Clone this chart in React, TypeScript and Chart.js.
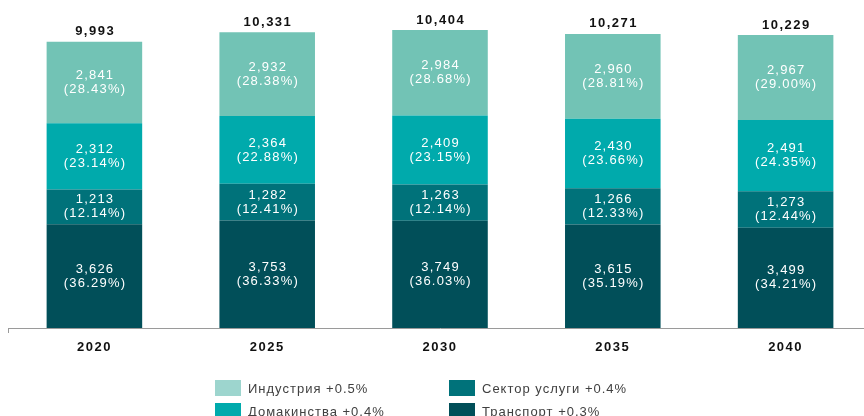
import React, { useEffect, useRef } from "react";
import { Chart, registerables } from "chart.js";
Chart.register(...registerables);

const years = ["2020", "2025", "2030", "2035", "2040"];
const transport = [3626, 3753, 3749, 3615, 3499];
const services = [1213, 1282, 1263, 1266, 1273];
const households = [2312, 2364, 2409, 2430, 2491];
const industry = [2841, 2932, 2984, 2960, 2967];
const transportPct = ["36.29%", "36.33%", "36.03%", "35.19%", "34.21%"];
const servicesPct = ["12.14%", "12.41%", "12.14%", "12.33%", "12.44%"];
const householdsPct = ["23.14%", "22.88%", "23.15%", "23.66%", "24.35%"];
const industryPct = ["28.43%", "28.38%", "28.68%", "28.81%", "29.00%"];
const totals = [9993, 10331, 10404, 10271, 10229];

const seriesNames = ["Транспорт +0.3%", "Сектор услуги +0.4%", "Домакинства +0.4%", "Индустрия +0.5%"];
const barColors = ["#014F59", "#00727A", "#00AAAC", "#72C3B5"];
const legendColors = ["#014F59", "#00727A", "#00AAAC", "#9DD5CE"];

const fmt = (v: number) => v.toLocaleString("en-US");

const FONT = "'Liberation Sans', Arial, sans-serif";

const spacingPlugin = {
  id: "spacing",
  beforeDraw(chart: any) {
    chart.ctx.letterSpacing = "1.5px";
  },
};

const labelsPlugin = {
  id: "segLabels",
  afterDatasetsDraw(chart: any) {
    const ctx = chart.ctx;
    const pcts = [transportPct, servicesPct, householdsPct, industryPct];
    ctx.save();
    ctx.textAlign = "center";
    ctx.textBaseline = "middle";
    ctx.letterSpacing = "1.2px";
    chart.data.datasets.forEach((ds: any, di: number) => {
      const meta = chart.getDatasetMeta(di);
      meta.data.forEach((el: any, i: number) => {
        const cy = (el.y + el.base) / 2;
        ctx.fillStyle = "#ffffff";
        ctx.font = `13px ${FONT}`;
        ctx.fillText(fmt(ds.data[i]), el.x + 0.6, cy - 7);
        ctx.fillText(`(${pcts[di][i]})`, el.x + 0.6, cy + 7);
      });
    });
    // totals
    const top = chart.getDatasetMeta(chart.data.datasets.length - 1);
    ctx.fillStyle = "#111111";
    ctx.font = `bold 13px ${FONT}`;
    ctx.letterSpacing = "1.5px";
    top.data.forEach((el: any, i: number) => {
      ctx.fillText(fmt(totals[i]), el.x + 0.75, el.y - 10);
    });
    // small tick at axis start
    const xs = chart.scales.x;
    ctx.strokeStyle = "#9a9a9a";
    ctx.lineWidth = 1;
    ctx.beginPath();
    ctx.moveTo(xs.left + 0.5, xs.top);
    ctx.lineTo(xs.left + 0.5, xs.top + 5);
    ctx.stroke();
    ctx.restore();
  },
  afterDraw(chart: any) {
    chart.ctx.letterSpacing = "0px";
  },
};

export default function App() {
  const ref = useRef<HTMLCanvasElement | null>(null);
  useEffect(() => {
    if (!ref.current) return;
    const chart = new Chart(ref.current, {
      type: "bar",
      data: {
        labels: years,
        datasets: [
          { label: seriesNames[0], data: transport, backgroundColor: barColors[0] },
          { label: seriesNames[1], data: services, backgroundColor: barColors[1] },
          { label: seriesNames[2], data: households, backgroundColor: barColors[2] },
          { label: seriesNames[3], data: industry, backgroundColor: barColors[3] },
        ],
      },
      options: {
        animation: false,
        responsive: false,
        layout: { padding: { top: 13, left: 8, right: 0, bottom: 0 } },
        datasets: { bar: { barPercentage: 0.553, categoryPercentage: 1 } },
        plugins: { legend: { display: false }, tooltip: { enabled: false } },
        scales: {
          x: {
            stacked: true,
            grid: { display: false, drawTicks: false },
            border: { display: true, color: "#9a9a9a", width: 1 },
            ticks: { color: "#111111", font: { family: FONT, size: 13, weight: "bold" }, padding: 12 },
            afterFit: (s: any) => { s.height = 88; },
          },
          y: { stacked: true, display: false, min: 0, max: 11000 },
        },
      },
      plugins: [spacingPlugin, labelsPlugin],
    });
    return () => chart.destroy();
  }, []);

  const legendPos = [
    { x: 449, y: 403 },
    { x: 449, y: 380 },
    { x: 215, y: 403 },
    { x: 215, y: 380 },
  ];

  return (
    <div style={{ position: "fixed", left: 0, top: 0, width: 864, height: 416, overflow: "hidden", background: "#fff" }}>
      <canvas ref={ref} width={872} height={416} style={{ position: "absolute", left: 0, top: 0, width: 872, height: 416 }} />
      {seriesNames.map((n, i) => (
        <div key={n} style={{ position: "absolute", left: legendPos[i].x, top: legendPos[i].y, height: 16, display: "flex", alignItems: "center" }}>
          <div style={{ width: 26, height: 16, background: legendColors[i] }} />
          <span style={{ marginLeft: 7, font: `13px ${FONT}`, letterSpacing: "1px", color: "#404040", whiteSpace: "nowrap" }}>{n}</span>
        </div>
      ))}
    </div>
  );
}
